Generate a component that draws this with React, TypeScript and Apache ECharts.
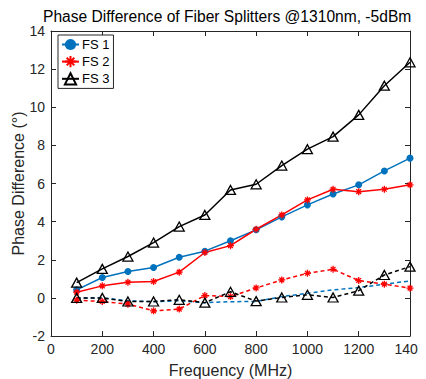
import React, { useEffect, useRef } from "react";
import * as echarts from "echarts";

const freq = [100, 200, 300, 400, 500, 600, 700, 800, 900, 1000, 1100, 1200, 1300, 1400];
const fs1 = [0.42, 1.07, 1.38, 1.59, 2.13, 2.45, 3.0, 3.57, 4.25, 4.88, 5.45, 5.93, 6.66, 7.33];
const fs2 = [0.3, 0.63, 0.82, 0.86, 1.35, 2.38, 2.74, 3.6, 4.35, 5.14, 5.7, 5.57, 5.7, 5.93];
const fs3 = [0.8, 1.52, 2.17, 2.9, 3.74, 4.35, 5.66, 5.96, 6.94, 7.8, 8.46, 9.6, 11.13, 12.36];
const fs1d = [0.0, 0.0, -0.15, -0.2, -0.15, -0.25, -0.2, -0.19, 0.07, 0.24, 0.42, 0.54, 0.72, 0.89];
const fs2d = [-0.12, -0.19, -0.33, -0.68, -0.59, 0.12, 0.07, 0.52, 0.94, 1.29, 1.5, 0.91, 0.72, 0.51];
const fs3d = [0.0, 0.0, -0.19, -0.19, -0.1, -0.25, 0.32, -0.17, 0.02, 0.16, 0.02, 0.38, 1.2, 1.64];
const xTicks = { min: 0, max: 1400, interval: 200 };
const yTicks = { min: -2, max: 14, interval: 2 };

const BLUE = "#0072BD";
const RED = "#FF0000";
const BLACK = "#000000";
const AXIS = "#262626";
const FONT = "'Liberation Sans', Arial, Helvetica, sans-serif";
const STAR = "path://M5,0L5,10M0,5L10,5M1.6,1.6L8.4,8.4M1.6,8.4L8.4,1.6";

const pairs = (ys: number[]) => freq.map((f, i) => [f, ys[i]]);

export default function App() {
  const ref = useRef<HTMLDivElement>(null);
  useEffect(() => {
    if (!ref.current) return;
    const chart = echarts.init(ref.current, undefined, { renderer: "svg" });
    const axisCommon = {
      axisLine: { show: true, onZero: false, lineStyle: { color: AXIS, width: 1 } },
      axisTick: { show: true, inside: true, length: 5, lineStyle: { color: AXIS } },
      splitLine: { show: false },
    };
    const labelFmt = (v: number) => String(v);
    const starItem = { color: RED, borderColor: RED, borderWidth: 1.3 };
    const triItem = { color: "rgba(255,255,255,0)", borderColor: BLACK, borderWidth: 1.3 };
    chart.setOption({
      animation: false,
      backgroundColor: "#fff",
      title: {
        text: "Phase Difference of Fiber Splitters @1310nm, -5dBm",
        left: 43,
        top: 8,
        padding: 0,
        textStyle: { fontFamily: FONT, fontSize: 15.6, fontWeight: "normal", color: "#000" },
      },
      legend: {
        data: ["FS 1", "FS 2", "FS 3"],
        orient: "vertical",
        left: 58,
        top: 35,
        padding: [3, 4, 3, 3],
        itemGap: 4,
        itemWidth: 17,
        itemHeight: 14,
        backgroundColor: "#fff",
        borderColor: AXIS,
        borderWidth: 1,
        borderRadius: 0,
        textStyle: { fontFamily: FONT, fontSize: 13, color: "#000", padding: [0, 0, 0, -2] },
      },
      grid: { left: 51, right: 16, top: 31, bottom: 43, containLabel: false, outerBoundsMode: "none" },
      xAxis: [
        {
          type: "value",
          ...xTicks,
          position: "bottom",
          name: "Frequency (MHz)",
          nameLocation: "middle",
          nameGap: 26,
          nameMoveOverlap: false,
          nameTextStyle: { fontFamily: FONT, fontSize: 16, color: AXIS },
          axisLabel: { fontFamily: FONT, fontSize: 14, color: AXIS, margin: 6, formatter: labelFmt },
          ...axisCommon,
        },
        {
          type: "value",
          ...xTicks,
          position: "top",
          axisLabel: { show: false },
          ...axisCommon,
        },
      ],
      yAxis: [
        {
          type: "value",
          ...yTicks,
          position: "left",
          name: "Phase Difference (°)",
          nameLocation: "middle",
          nameGap: 25,
          nameMoveOverlap: false,
          nameTextStyle: { fontFamily: FONT, fontSize: 16, color: AXIS },
          axisLabel: { fontFamily: FONT, fontSize: 14, color: AXIS, margin: 6, formatter: labelFmt },
          ...axisCommon,
        },
        {
          type: "value",
          ...yTicks,
          position: "right",
          axisLabel: { show: false },
          ...axisCommon,
        },
      ],
      series: [
        {
          name: "FS 1",
          type: "line",
          data: pairs(fs1),
          symbol: "circle",
          symbolSize: 7,
          lineStyle: { color: BLUE, width: 1.5 },
          itemStyle: { color: BLUE },
        },
        {
          name: "FS 2",
          type: "line",
          data: pairs(fs2),
          symbol: STAR,
          symbolSize: 7,
          lineStyle: { color: RED, width: 1.5 },
          itemStyle: starItem,
        },
        {
          name: "FS 3",
          type: "line",
          data: pairs(fs3),
          symbol: "triangle",
          symbolSize: [10, 9],
          lineStyle: { color: BLACK, width: 1.5 },
          itemStyle: triItem,
        },
        {
          name: "FS 1 (ref)",
          type: "line",
          data: pairs(fs1d),
          symbol: "none",
          lineStyle: { color: BLUE, width: 1.5, type: [4, 3] },
          itemStyle: { color: BLUE },
        },
        {
          name: "FS 2 (ref)",
          type: "line",
          data: pairs(fs2d),
          symbol: STAR,
          symbolSize: 7,
          lineStyle: { color: RED, width: 1.5, type: [4, 3] },
          itemStyle: starItem,
        },
        {
          name: "FS 3 (ref)",
          type: "line",
          data: pairs(fs3d),
          symbol: "triangle",
          symbolSize: [10, 9],
          lineStyle: { color: BLACK, width: 1.5, type: [4, 3] },
          itemStyle: triItem,
        },
      ],
    });
    return () => chart.dispose();
  }, []);
  return <div ref={ref} style={{ width: 426, height: 379, marginLeft: -8, marginTop: -8 }} />;
}
